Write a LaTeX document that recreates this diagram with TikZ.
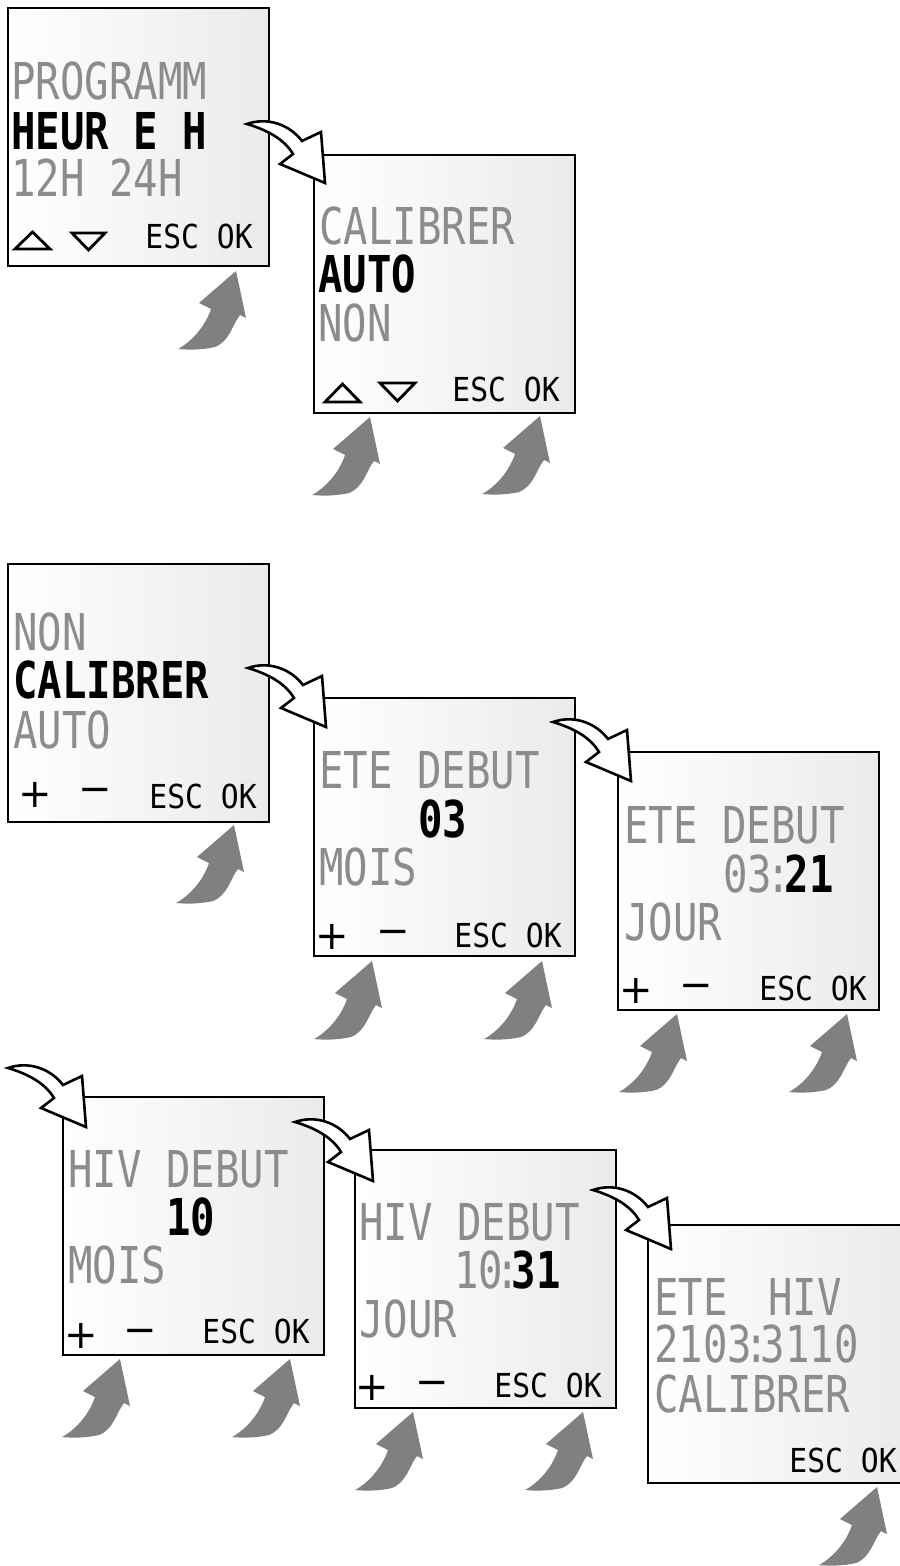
\documentclass[tikz,border=0pt]{standalone}
\usepackage{fontspec}
\newfontfamily\lcdfont{DejaVu Sans Mono}[FakeStretch=0.8]
\newfontfamily\escfont{DejaVu Sans Mono}[FakeStretch=0.9]
\newfontfamily\symfont{DejaVu Sans}
\tikzset{
  lcdbox/.style={draw=black, line width=1.1pt, left color=white, right color=black!8,
    minimum width=130.5pt, minimum height=129pt, anchor=north west, inner sep=0pt},
  dim/.style={anchor=base west, inner sep=0pt, xshift=-2pt, text=black!45,
    font=\lcdfont\fontsize{25.4}{26}\selectfont},
  act/.style={anchor=base west, inner sep=0pt, xshift=-2pt, text=black,
    font=\lcdfont\bfseries\fontsize{25.4}{26}\selectfont},
  esc/.style={anchor=base west, inner sep=0pt, xshift=-1.5pt, text=black,
    font=\escfont\fontsize{16.5}{17}\selectfont},
  sym/.style={inner sep=0pt, text=black, font=\symfont\fontsize{20}{21}\selectfont},
  tri/.style={draw=black, line width=1.4pt, line join=miter},
  whitearrow/.pic={
    \draw[line width=1.3pt, fill=white, line join=miter]
      (0,0) .. controls (20,-7) and (42,0) .. (55,17) -- (74,8) -- (78,59)
      -- (33,40) -- (46,30) .. controls (37,15) and (20,6) .. (0,0) -- cycle;
  },
  grayarrow/.pic={
    \fill[black!50]
      (0,0) .. controls (13,-7) and (27,-22) .. (33,-40) -- (21,-46) -- (58,-78)
      -- (68,-31) -- (62,-34) .. controls (54,-24) and (52,-8) .. (37,-2)
      .. controls (24,1) and (10,1) .. (0,0) -- cycle;
  }
}
\begin{document}
\begin{tikzpicture}[x=0.5pt, y=-0.5pt]
\useasboundingbox (0,0) rectangle (899,1566);

% ---------- boxes ----------
\node[lcdbox] (b1) at (7,7) {};
\node[lcdbox] (b2) at (313,154) {};
\node[lcdbox] (b3) at (7,563) {};
\node[lcdbox] (b4) at (313,697) {};
\node[lcdbox] (b5) at (617,751) {};
\node[lcdbox] (b6) at (62,1096) {};
\node[lcdbox] (b7) at (354,1149) {};
\node[lcdbox] (b8) at (647,1224) {};

% ---------- box 1 ----------
\node[dim] (t1a) at (15,100) {PROGRAMM};
\node[act] (t1b) at (15,150) {HEUR E H};
\node[dim] (t1c) at (15,197) {12H 24H};
\draw[tri] (15,249) -- (50,249) -- (32.5,232) -- cycle;
\draw[tri] (72,233) -- (105,233) -- (88.5,250) -- cycle;
\node[esc] (e1) at (148,249) {ESC OK};

% ---------- box 2 ----------
\node[dim] (t2a) at (323,245) {CALIBRER};
\node[act] (t2b) at (322,293) {AUTO};
\node[dim] (t2c) at (322,342) {NON};
\draw[tri] (325,402) -- (360,402) -- (342.5,384) -- cycle;
\draw[tri] (380,383) -- (415,383) -- (397.5,401) -- cycle;
\node[esc] (e2) at (455,402) {ESC OK};

% ---------- box 3 ----------
\node[dim] (t3a) at (17,650) {NON};
\node[act] (t3b) at (17,698) {CALIBRER};
\node[dim] (t3c) at (17,748) {AUTO};
\node[sym] (p3) at (35,795) {+};
\node[sym] (m3) at (95,795) {−};
\node[esc] (e3) at (152,808) {ESC OK};

% ---------- box 4 ----------
\node[dim] (t4a) at (323,788) {ETE DEBUT};
\node[act] (t4b) at (422,837) {03};
\node[dim] (t4c) at (323,885) {MOIS};
\node[sym] (p4) at (332,937) {+};
\node[sym] (m4) at (393,937) {−};
\node[esc] (e4) at (457,947) {ESC OK};

% ---------- box 5 ----------
\node[dim] (t5a) at (628,843) {ETE DEBUT};
\node[dim] (t5b) at (727,892) {03\kern-3pt:\kern-3pt\textcolor{black}{\bfseries 21}};
\node[dim] (t5c) at (628,940) {JOUR};
\node[sym] (p5) at (636,991) {+};
\node[sym] (m5) at (696,991) {−};
\node[esc] (e5) at (762,1000) {ESC OK};

% ---------- box 6 ----------
\node[dim] (t6a) at (72,1187) {HIV DEBUT};
\node[act] (t6b) at (170,1235) {10};
\node[dim] (t6c) at (72,1283) {MOIS};
\node[sym] (p6) at (81,1336) {+};
\node[sym] (m6) at (140,1336) {−};
\node[esc] (e6) at (205,1343) {ESC OK};

% ---------- box 7 ----------
\node[dim] (t7a) at (363,1240) {HIV DEBUT};
\node[dim] (t7b) at (458,1288) {10\kern-4pt:\kern-4pt\textcolor{black}{\bfseries 31}};
\node[dim] (t7c) at (363,1337) {JOUR};
\node[sym] (p7) at (372,1388) {+};
\node[sym] (m7) at (432,1388) {−};
\node[esc] (e7) at (497,1397) {ESC OK};

% ---------- box 8 ----------
\node[dim] (t8a) at (658,1315) {ETE\hspace{8pt} HIV};
\node[dim] (t8b) at (658,1362) {2103\kern-4pt:\kern-4pt3110};
\node[dim] (t8c) at (658,1412) {CALIBRER};
\node[esc] (e8) at (792,1472) {ESC OK};

% ---------- gray "press" arrows ----------
\pic at (178,349) {grayarrow};
\pic at (312,495) {grayarrow};
\pic at (482,494) {grayarrow};
\pic at (176,903) {grayarrow};
\pic at (314,1039) {grayarrow};
\pic at (484,1039) {grayarrow};
\pic at (619,1092) {grayarrow};
\pic at (789,1092) {grayarrow};
\pic at (62,1437) {grayarrow};
\pic at (232,1437) {grayarrow};
\pic at (355,1490) {grayarrow};
\pic at (525,1490) {grayarrow};
\pic at (819,1565) {grayarrow};

% ---------- white transition arrows ----------
\pic at (247,124) {whitearrow};
\pic at (248,668) {whitearrow};
\pic at (553,722) {whitearrow};
\pic at (8,1068) {whitearrow};
\pic at (295,1122) {whitearrow};
\pic at (593,1190) {whitearrow};
\end{tikzpicture}
\end{document}
